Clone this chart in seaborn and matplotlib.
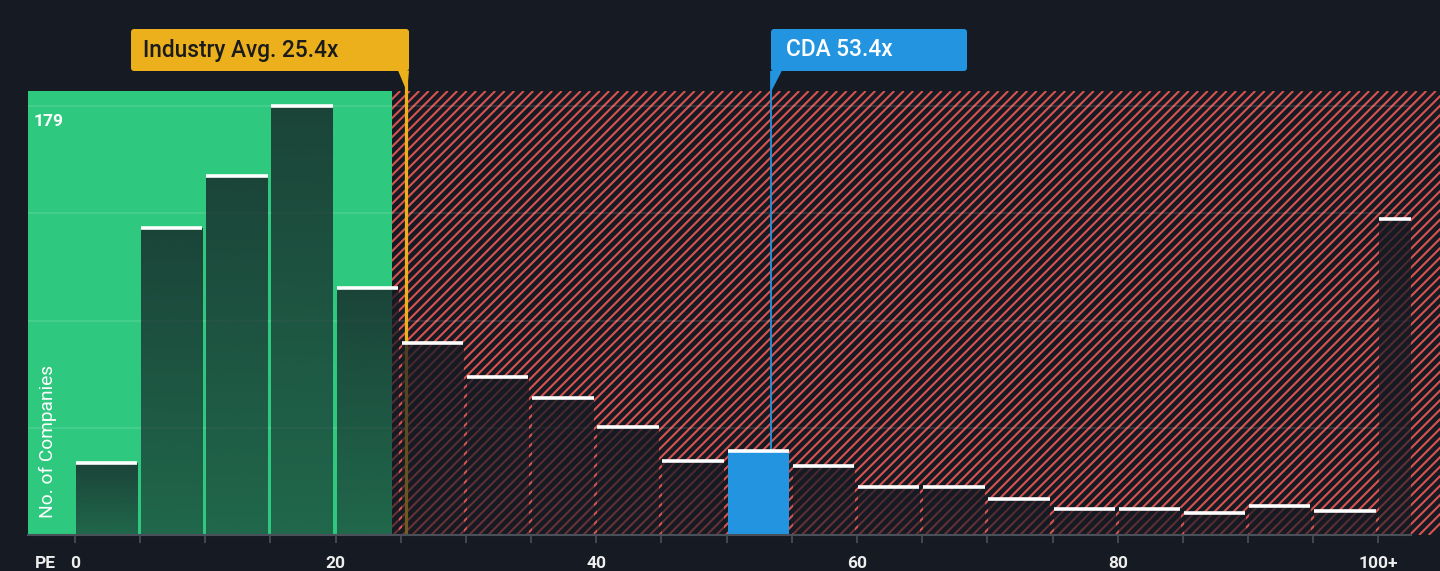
import numpy as np
import pandas as pd
import matplotlib
matplotlib.use("Agg")
import matplotlib.pyplot as plt
import seaborn as sns
from matplotlib.patches import Polygon, FancyBboxPatch
from matplotlib.collections import LineCollection
import matplotlib.transforms as mtransforms

# ---------------- data ----------------
bin_starts = [0, 5, 10, 15, 20, 25, 30, 35, 40, 45, 50, 55, 60, 65, 70, 75, 80, 85, 90, 95, 100]
counts = [30, 128, 150, 179, 103, 80, 66, 57, 45, 31, 35, 29, 20, 20, 15, 11, 11, 9, 12, 10, 132]
tick_values = [0, 20, 40, 60, 80, 100]
tick_labels = ["0", "20", "40", "60", "80", "100+"]
industry_avg = 25.4
industry_label = "Industry Avg. 25.4x"
company_pe = 53.4
company_label = "CDA 53.4x"
fair_upper = 24.3          # end of green (fair value) zone
x_axis_label = "PE"
y_axis_label = "No. of Companies"

# ---------------- style ----------------
BG = "#151a23"
GREEN = "#2ec97e"
RED = "#d9534f"
YELLOW = "#ecb01c"
BLUE = "#2394df"
GRID = "#ffffff"

sns.set_theme(style="dark")
plt.rcParams["font.family"] = ["Roboto", "DejaVu Sans"]

W, H = 1440, 571
fig = plt.figure(figsize=(W / 100, H / 100), dpi=100, facecolor=BG)
ax = fig.add_axes([28 / W, 36 / H, 1383 / W, 444 / H])
ax.set_facecolor(BG)

XMIN, XMAX = -3.6, 102.5
YMAX = 185.3

df = pd.DataFrame({"pe": np.array(bin_starts, dtype=float) + 2.43, "n": counts})
sns.barplot(data=df, x="pe", y="n", native_scale=True, width=0.942, color=BG,
            saturation=1, errorbar=None, ax=ax, zorder=3, linewidth=0)
bars = [p for p in ax.patches]

# zones
ax.axvspan(XMIN - 5, fair_upper, color=GREEN, lw=0, zorder=0.5)
red_zone = ax.axvspan(fair_upper, XMAX + 5, facecolor=BG, lw=0, zorder=0.5)

# grid lines
for v in np.linspace(0, max(counts), 5)[1:]:
    ax.axhline(v, color=GRID, alpha=0.12, lw=1.2, zorder=1)

# bars: gradient dark overlay, CDA highlighted
cda_idx = int(company_pe // 5)
lefts, rights = [], []
bg_rgb = matplotlib.colors.to_rgb(BG)
for i, p in enumerate(bars):
    x0, w, h = p.get_x(), p.get_width(), p.get_height()
    lefts.append(x0)
    rights.append(min(x0 + w, XMAX))
    if i == cda_idx:
        p.set_facecolor(BLUE)
        p.set_alpha(1)
        continue
    p.set_alpha(0)
    n = 64
    grad = np.zeros((n, 1, 4))
    grad[..., :3] = bg_rgb
    grad[:, 0, 3] = np.linspace(0.56, 0.76, n)
    ax.imshow(grad, extent=(x0, x0 + w, 0, h), origin="lower", aspect="auto",
              zorder=3, interpolation="bilinear")

ax.hlines(counts, lefts, rights, color="white", lw=2.6, zorder=4)

ax.set_xlim(XMIN, XMAX)
ax.set_ylim(0, YMAX)

# axes styling
for s in ["top", "right", "left"]:
    ax.spines[s].set_visible(False)
ax.spines["bottom"].set_color("#4a505a")
ax.spines["bottom"].set_linewidth(1.5)
ax.spines["bottom"].set_zorder(5)
ax.set_yticks([])
ax.set_xticks(np.arange(0, 101, 5))
ax.set_xticklabels([tick_labels[tick_values.index(t)] if t in tick_values else "" for t in range(0, 101, 5)])
ax.tick_params(axis="x", length=6, width=1.2, color="#4a505a", pad=9,
               labelsize=12.5, labelcolor="#eeeeee", bottom=True)
for lab in ax.get_xticklabels():
    lab.set_fontweight("bold")
ax.set_xlabel("")
ax.set_ylabel("")
ax.grid(False)

fig.canvas.draw()
tr = fig.dpi_scale_trans

def px(xval):
    return ax.transData.transform((xval, 0))[0]

def yin(ypx):
    return (H - ypx) / 100

# diagonal hatch lines for the "expensive" zone, ~9.5 px apart
hx0, hx1 = px(fair_upper), px(XMAX)
hy0, hy1 = 36.0, 480.0
hh = hy1 - hy0
segs = []
for c in np.arange(hx0 - hh - 20, hx1 + 20, 9.5):
    segs.append([(c / 100, hy0 / 100), ((c + hh) / 100, hy1 / 100)])
hatch = LineCollection(segs, colors=RED, linewidths=1.5, transform=tr, zorder=0.6)
ax.add_collection(hatch)
hatch.set_clip_path(red_zone)

# marker lines
blend = mtransforms.blended_transform_factory(ax.transData, ax.transAxes)
ax.plot([industry_avg, industry_avg], [0, 1.045], transform=blend, color=YELLOW,
        lw=2.3, zorder=1.8, clip_on=False, solid_capstyle="butt")
ax.plot([company_pe, company_pe], [0, 1.045], transform=blend, color=BLUE,
        lw=1.3, zorder=2.5, clip_on=False, solid_capstyle="butt")

# annotation boxes
pa = px(industry_avg)
box = FancyBboxPatch(((pa - 275) / 100, yin(71)), 278 / 100, 42 / 100,
                     boxstyle="round,pad=0,rounding_size=0.03", transform=tr,
                     facecolor=YELLOW, edgecolor="none", zorder=10)
fig.patches.append(box)
fig.patches.append(Polygon([((pa - 8) / 100, yin(70.5)), ((pa + 3) / 100, yin(70.5)),
                            ((pa + 1) / 100, yin(92))], closed=True, transform=tr,
                           facecolor=YELLOW, edgecolor="none", zorder=10))
fig.text((pa - 263) / 100, yin(50), industry_label, transform=tr, ha="left", va="center",
         fontsize=16.3, fontweight="medium", color="#1b1b1b", zorder=11)

pc = px(company_pe)
box2 = FancyBboxPatch((pc / 100, yin(71)), 196 / 100, 42 / 100,
                      boxstyle="round,pad=0,rounding_size=0.03", transform=tr,
                      facecolor=BLUE, edgecolor="none", zorder=10)
fig.patches.append(box2)
fig.patches.append(Polygon([(pc / 100, yin(70.5)), ((pc + 11) / 100, yin(70.5)),
                            (pc / 100, yin(92))], closed=True, transform=tr,
                           facecolor=BLUE, edgecolor="none", zorder=10))
fig.text((pc + 15) / 100, yin(50), company_label, transform=tr, ha="left", va="center",
         fontsize=16.3, fontweight="medium", color="white", zorder=11)

# other labels
fig.text(34 / 100, yin(121), str(max(counts)), transform=tr, ha="left", va="center",
         fontsize=12.5, fontweight="bold", color="white")
fig.text(47.5 / 100, yin(518), y_axis_label, transform=tr, ha="center", va="bottom",
         rotation=90, fontsize=13.8, color="white")
fig.text(45 / 100, yin(563), x_axis_label, transform=tr, ha="center", va="center",
         fontsize=12.5, fontweight="bold", color="#eeeeee")

fig.savefig("out.png", dpi=100, facecolor=BG)
